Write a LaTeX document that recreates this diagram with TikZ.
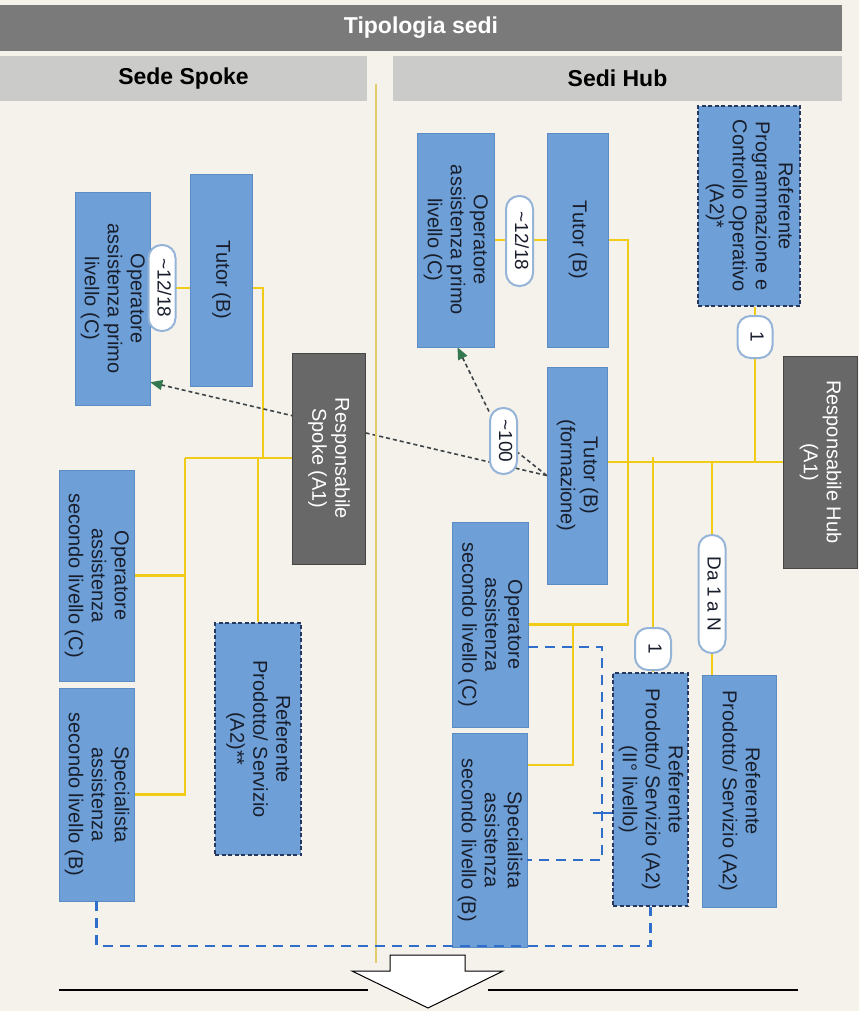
\documentclass[tikz,border=0pt]{standalone}
\usepackage{fontspec}
\setmainfont{Liberation Sans}
\usepackage{graphicx}
\usetikzlibrary{arrows.meta,calc}
\definecolor{carta}{RGB}{244,242,235}
\definecolor{hdrgray}{RGB}{122,122,122}
\definecolor{subgray}{RGB}{203,203,201}
\definecolor{boxblue}{RGB}{110,160,215}
\definecolor{boxline}{RGB}{92,140,198}
\definecolor{navyline}{RGB}{38,56,96}
\definecolor{respgray}{RGB}{104,104,104}
\definecolor{respline}{RGB}{70,70,70}
\definecolor{pillblue}{RGB}{150,180,216}
\definecolor{lineyellow}{RGB}{240,204,24}
\definecolor{divyellow}{RGB}{226,204,110}
\definecolor{dashblue}{RGB}{48,110,204}
\definecolor{dotgray}{RGB}{62,68,72}
\definecolor{arrowgreen}{RGB}{52,120,80}
\definecolor{txtdark}{RGB}{24,30,44}

\newcommand{\vtxt}[1]{\rotatebox{-90}{\begin{tabular}{@{}c@{}}#1\end{tabular}}}

\pgfdeclarelayer{fondo}
\pgfdeclarelayer{sfondo}
\pgfsetlayers{fondo,sfondo,main}

\tikzset{
  base/.style={inner sep=0pt, text=txtdark, font={\fontsize{20}{23}\selectfont}},
  titolo/.style={inner sep=0pt, text=black, font={\fontsize{23}{26}\selectfont\bfseries}},
  cella/.style={base, draw=boxline, fill=boxblue, line width=.6pt},
  cellatr/.style={base, draw=navyline, fill=boxblue, line width=1.1pt, dash pattern=on 4pt off 2.5pt},
  resp/.style={base, draw=respline, fill=respgray, text=white, line width=1pt},
  pill/.style={base, draw=pillblue, fill=white, line width=2pt, rounded corners=13pt,
    font={\fontsize{19}{22}\selectfont}},
  yl/.style={draw=lineyellow, line width=2.8pt},
  bd/.style={draw=dashblue, line width=2.6pt, dash pattern=on 10pt off 7pt},
  dl/.style={draw=dotgray, line width=1.6pt, dash pattern=on 4pt off 3pt,
    -{Triangle[length=12pt,width=10pt,color=arrowgreen]}}
}

\begin{document}
\begin{tikzpicture}[x=1pt,y=-1pt]
  % fondo e intestazioni
  \useasboundingbox (0,0) rectangle (859,1011);
  \begin{pgfonlayer}{fondo}
    \fill[carta] (0,0) rectangle (859,1011);
  \end{pgfonlayer}
  \node[titolo, fill=hdrgray, text=white, minimum width=842pt, minimum height=46pt] (tipologia) at (421,28) {Tipologia sedi};
  \node[titolo, fill=subgray, minimum width=367pt, minimum height=45pt] (spoke) at (183.5,78.5) {Sede Spoke};
  \node[titolo, fill=subgray, minimum width=449pt, minimum height=45pt] (hub) at (617.5,78.5) {Sedi Hub};
  \draw[divyellow, line width=1.1pt] (376,84) -- (376,963);

  % sede spoke
  \node[cella, minimum width=75pt, minimum height=213pt] (opA) at (112.5,298.5) {\vtxt{Operatore\\assistenza primo\\livello (C)}};
  \node[cella, minimum width=62pt, minimum height=212pt] (tutA) at (221,280) {\vtxt{Tutor (B)}};
  \node[pill, minimum width=27pt, minimum height=86pt] (qA) at (162,288) {\vtxt{\textasciitilde12/18}};
  \node[resp, minimum width=73pt, minimum height=211pt] (respA) at (328.5,458.5) {\vtxt{Responsabile\\Spoke (A1)}};
  \node[cella, minimum width=75pt, minimum height=211pt] (opB) at (96.5,575.5) {\vtxt{Operatore\\assistenza\\secondo livello (C)}};
  \node[cella, minimum width=75pt, minimum height=213pt] (spB) at (96.5,794.5) {\vtxt{Specialista\\assistenza\\secondo livello (B)}};
  \node[cellatr, minimum width=86pt, minimum height=232pt] (refA) at (258,739) {\vtxt{Referente\\Prodotto/ Servizio\\(A2)**}};

  % sedi hub
  \node[cella, minimum width=77pt, minimum height=214pt] (opH) at (455.5,240) {\vtxt{Operatore\\assistenza primo\\livello (C)}};
  \node[cella, minimum width=61pt, minimum height=214pt] (tutH) at (577.5,240) {\vtxt{Tutor (B)}};
  \node[pill, minimum width=27pt, minimum height=90pt] (qB) at (519.5,241) {\vtxt{\textasciitilde12/18}};
  \node[cellatr, minimum width=102pt, minimum height=200pt] (refP) at (749,206) {\vtxt{Referente\\Programmazione e\\Controllo Operativo\\(A2)*}};
  \node[pill, minimum width=35pt, minimum height=42pt] (uno1) at (755,337) {\vtxt{1}};
  \node[resp, minimum width=74pt, minimum height=212pt] (respH) at (820,462) {\vtxt{Responsabile Hub\\(A1)}};
  \node[cella, minimum width=60pt, minimum height=217pt] (tutF) at (577,475.5) {\vtxt{Tutor (B)\\(formazione)}};
  \node[pill, minimum width=27pt, minimum height=66pt] (cento) at (503.5,441) {\vtxt{\textasciitilde100}};
  \node[cella, minimum width=76pt, minimum height=205pt] (opH2) at (490,624.5) {\vtxt{Operatore\\assistenza\\secondo livello (C)}};
  \node[cella, minimum width=75pt, minimum height=214pt] (spH) at (489.5,840) {\vtxt{Specialista\\assistenza\\secondo livello (B)}};
  \node[pill, minimum width=36pt, minimum height=42pt] (uno2) at (653,649) {\vtxt{1}};
  \node[pill, minimum width=27pt, minimum height=118pt] (daN) at (712,594) {\vtxt{Da 1 a N}};
  \node[cellatr, minimum width=75pt, minimum height=233pt] (refII) at (650.5,789.5) {\vtxt{Referente\\Prodotto/ Servizio (A2)\\(II° livello)}};
  \node[cella, minimum width=74pt, minimum height=232pt] (refR) at (739,791) {\vtxt{Referente\\Prodotto/ Servizio (A2)}};

  % punti di snodo
  \coordinate (sA1) at (263,458);
  \coordinate (sA2) at (185,458);
  \coordinate (hB1) at (628,624.5);
  \coordinate (hB2) at (573,624.5);
  \coordinate (hB3) at (573,765);
  \coordinate (bd1) at (602,647);
  \coordinate (bd2) at (602,860);
  \coordinate (bd3) at (96.5,946);
  \coordinate (bd4) at (602,813);

  \begin{pgfonlayer}{sfondo}
    \draw[yl] (opA.east |- qA) -- (tutA.west |- qA);
    \draw[yl] (tutA.east |- qA) -| (sA1);
    \draw[yl] (respA.west |- sA1) -- (sA2);
    \draw[yl] (opB.east) -| (sA2);
    \draw[yl] (spB.east) -| (sA2);
    \draw[yl] (refA.north) -- (refA.north |- sA1);

    \draw[yl] (opH.east) -- (tutH.west);
    \draw[yl] (tutH.east) -| (hB1) -- (opH2.east);
    \draw[yl] (hB2) -- (hB3) -- (hB3 -| spH.east);
    \draw[yl] (refP.south -| uno1) -- (uno1) -- (uno1 |- respH.west);
    \draw[yl] (tutF.east |- respH.west) -- (respH.west);
    \draw[yl] ([yshift=5pt]uno2 |- respH.west) -- (uno2) -- (uno2 |- refII.north);
    \draw[yl] (daN |- respH.west) -- (daN) -- (daN |- refR.north);

    \draw[dl] (tutF.west) -- ([yshift=23pt]opA.south east);
    \draw[dl] (tutF.west) -- (cento) -- ([xshift=2pt]opH.south);
  \end{pgfonlayer}

  % secondo livello tratteggiato
  \draw[bd] (opH2.east |- bd1) -- (bd1) -- (bd2) -- (bd2 -| spH.east);
  \draw[dashblue, line width=1.4pt] ([xshift=-9pt]bd4) -- (bd4 -| refII.west);
  \draw[bd] (spB.south) -- (bd3) -| (refII.south);

  % freccia finale
  \draw[black, fill=white, line width=1pt] (390,955) -- (465,955) -- (465,971) -- (503,971)
    -- (428,1008) -- (352,971) -- (390,971) -- cycle;
  \draw[black, line width=1.2pt] (59,990) -- (368,990);
  \draw[black, line width=1.2pt] (488,990) -- (798,990);
\end{tikzpicture}
\end{document}
